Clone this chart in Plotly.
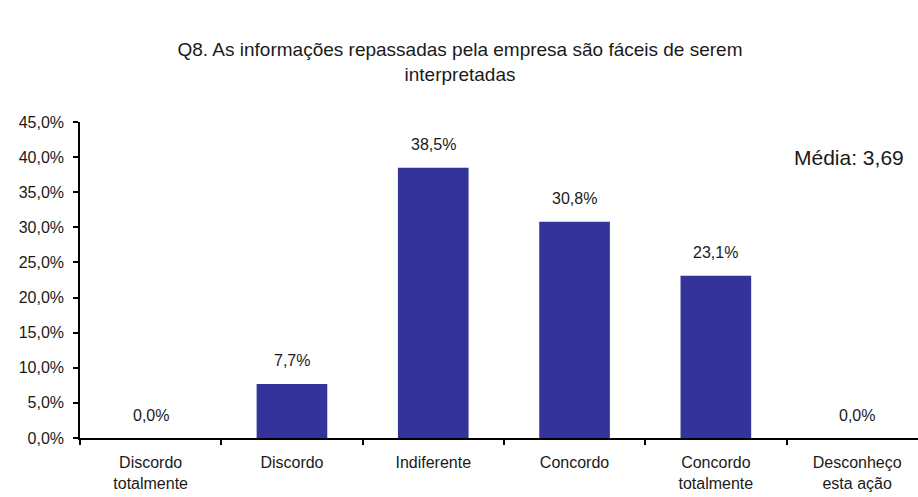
import plotly.graph_objects as go

# Survey answer categories and share of respondents (%)
categories = [
    "Discordo<br>totalmente",
    "Discordo",
    "Indiferente",
    "Concordo",
    "Concordo<br>totalmente",
    "Desconheço<br>esta ação",
]
shares = [0.0, 7.7, 38.5, 30.8, 23.1, 0.0]
y_ticks = [0, 5, 10, 15, 20, 25, 30, 35, 40, 45]
y_tick_labels = [f"{v:.1f}%".replace(".", ",") for v in y_ticks]
title_text = "Q8. As informações repassadas pela empresa são fáceis de serem<br>interpretadas"
mean_text = "Média: 3,69"

BAR_COLOR = "#333399"
FONT = "Liberation Sans, Arial, sans-serif"
TEXT_COLOR = "#1a1a1a"

fig = go.Figure()
fig.add_trace(go.Bar(
    x=categories,
    y=shares,
    marker=dict(color=BAR_COLOR, line=dict(width=0)),
    width=0.5,
    hoverinfo="skip",
))

# value labels above each bar
for cat, val in zip(categories, shares):
    fig.add_annotation(
        x=cat, y=val, xref="x", yref="y",
        text=f"{val:.1f}%".replace(".", ","),
        showarrow=False, yanchor="middle", yshift=23,
        font=dict(family=FONT, size=16, color=TEXT_COLOR),
    )

fig.update_layout(
    width=918, height=497,
    margin=dict(l=80, r=0, t=122, b=59),
    paper_bgcolor="white", plot_bgcolor="white",
    showlegend=False,
    title=dict(
        text=title_text, x=460 / 918, xanchor="center", xref="container",
        y=1 - 56 / 497, yref="container", yanchor="middle",
        font=dict(family=FONT, size=19, color=TEXT_COLOR),
    ),
    xaxis=dict(
        type="category",
        range=[-0.5, -0.5 + 838 / 141.3],
        showline=True, linecolor="#000000", linewidth=1.5,
        ticks="outside", ticklen=5, tickcolor="#000000", tickwidth=1.5,
        tickson="boundaries",
        ticklabelstandoff=9,
        tickfont=dict(family=FONT, size=16, color=TEXT_COLOR),
        showgrid=False, zeroline=False, fixedrange=True,
    ),
    yaxis=dict(
        range=[0, 45],
        tickmode="array", tickvals=y_ticks, ticktext=y_tick_labels,
        showline=True, linecolor="#000000", linewidth=1.5,
        ticks="outside", ticklen=5, tickcolor="#000000", tickwidth=1.5,
        ticklabelstandoff=6,
        tickfont=dict(family=FONT, size=16, color=TEXT_COLOR),
        showgrid=False, zeroline=False, fixedrange=True,
    ),
)

fig.add_annotation(
    x=1, y=1, xref="paper", yref="paper",
    xanchor="right", yanchor="middle",
    xshift=-12, yshift=-35,
    text=mean_text, showarrow=False,
    font=dict(family=FONT, size=21, color=TEXT_COLOR),
)

fig.write_html("out.html")
